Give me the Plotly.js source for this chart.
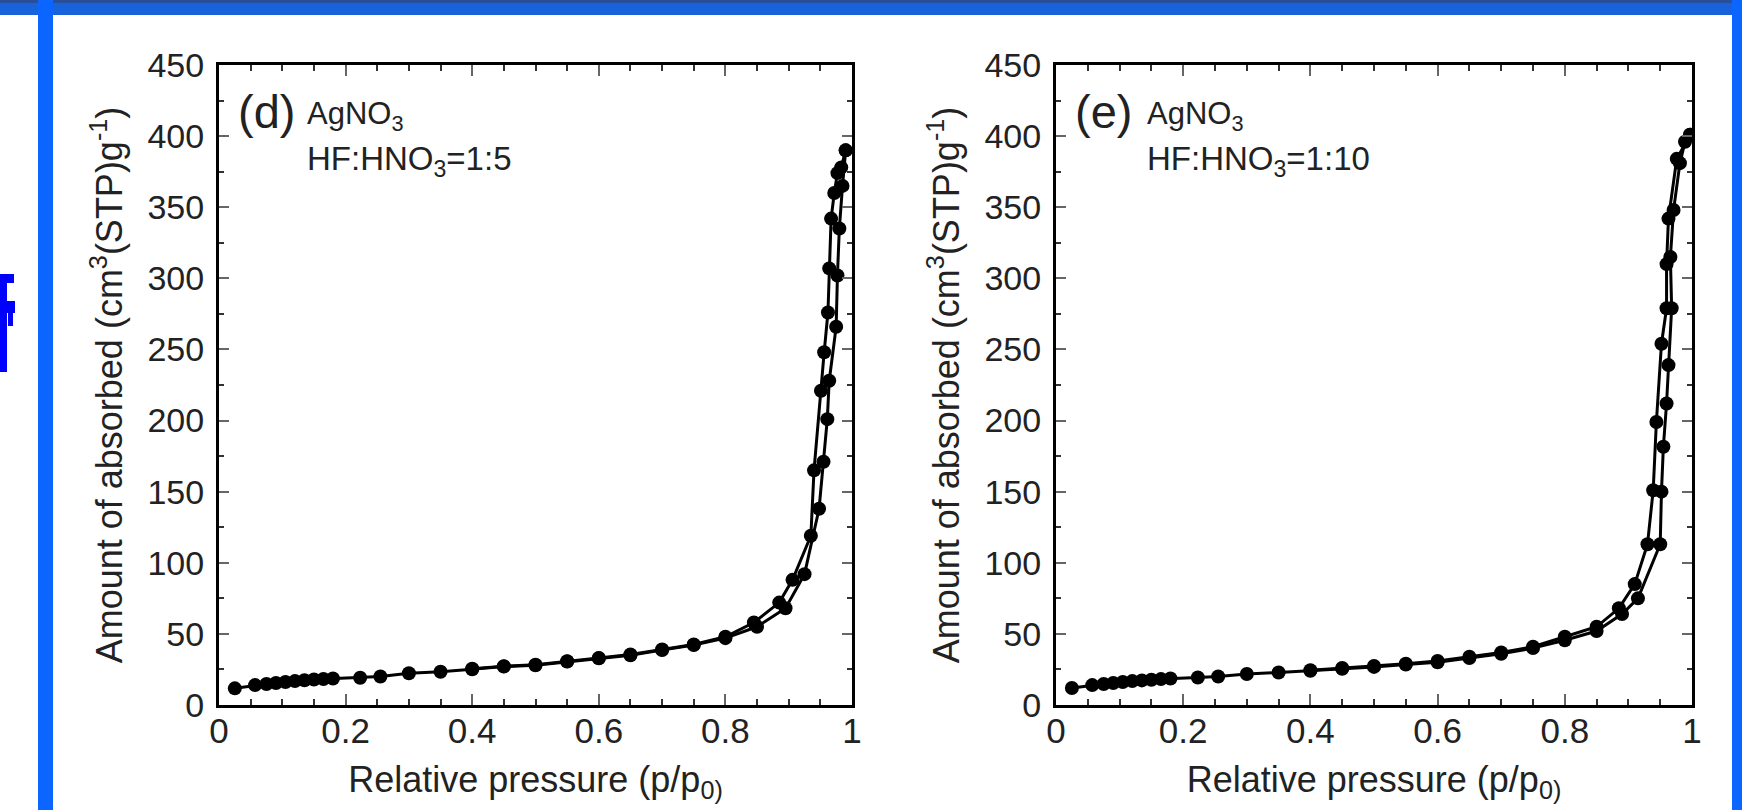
<!DOCTYPE html>
<html>
<head>
<meta charset="utf-8">
<script src="https://cdn.plot.ly/plotly-3.0.1.min.js"></script>
<style>html,body{margin:0;padding:0;background:#fff;}#chart{width:1742px;height:810px;}</style>
</head>
<body>
<div id="chart"></div>
<script>
// ---- Data: panel (d) AgNO3, HF:HNO3 = 1:5 ----
const dAdsX = [0.025,0.057,0.075,0.09,0.105,0.12,0.135,0.15,0.165,0.18,0.223,0.255,0.3,0.35,0.4,0.45,0.5,0.55,0.6,0.65,0.7,0.75,0.8,0.85,0.895,0.925,0.948,0.955,0.961,0.964,0.975,0.977,0.98,0.985,0.99];
const dAdsY = [11.7,14,14.8,15.5,16.2,16.8,17.4,17.9,18.3,18.6,19.2,20,22.3,23.4,25.1,27,28,30.5,32.8,35,38.7,42.2,47,55,68,92,138,171,201,228,266,302,335,365,390];
const dDesX = [0.99,0.983,0.977,0.972,0.967,0.964,0.962,0.956,0.951,0.94,0.935,0.906,0.885,0.845,0.8,0.75,0.7,0.65,0.6,0.55,0.5,0.45,0.4];
const dDesY = [390,378,374,360,342,307,276,248,221,165,119,88,72,58,48,42.5,39,35.5,33,30.8,28.3,27.3,25.5];

// ---- Data: panel (e) AgNO3, HF:HNO3 = 1:10 ----
const eAdsX = [0.025,0.057,0.075,0.09,0.105,0.12,0.135,0.15,0.165,0.18,0.223,0.255,0.3,0.35,0.4,0.45,0.5,0.55,0.6,0.65,0.7,0.75,0.8,0.85,0.89,0.915,0.95,0.952,0.955,0.96,0.963,0.968,0.966,0.971,0.981,0.989,0.997];
const eAdsY = [12,14,14.8,15.5,16.2,16.8,17.3,17.8,18.2,18.6,19.3,20,21.8,22.8,24,25.5,26.8,28.5,30,33,36,40,45.5,52,64,75,113,150,181.6,212,239,279,315,348,381,396,401];
const eDesX = [0.997,0.976,0.963,0.96,0.96,0.952,0.944,0.939,0.93,0.91,0.885,0.85,0.8,0.75,0.7,0.65,0.6,0.55,0.5,0.45,0.4];
const eDesY = [401,384,342,310,279,254,199,151,113,85,68,55,48,41,37,34,31,29,27.5,26,24.5];

const panelLabels = ["(d)", "(e)"];
const precursorLabel = "AgNO<sub>3</sub>";
const ratioLabels = ["HF:HNO<sub>3</sub>=1:5", "HF:HNO<sub>3</sub>=1:10"];
const xTitle = "Relative pressure (p/p<sub>0)</sub>";
const yTitle = "Amount of absorbed (cm<sup>3</sup>(STP)g<sup>-1</sup>)";
const xTickVals = [0, 0.2, 0.4, 0.6, 0.8, 1];
const xTickText = ["0", "0.2", "0.4", "0.6", "0.8", "1"];

// ---- Geometry helpers (pixels -> paper) ----
const W = 1742, H = 810;
const px = v => v / W;
const py = v => 1 - v / H;

const FONT = "Liberation Sans, Arial, sans-serif";
const lineStyle = {color: "#000", width: 3};
const markerStyle = {symbol: "circle", size: 14, color: "#000"};

function branch(x, y, xa, ya) {
  return {x: x, y: y, xaxis: xa, yaxis: ya, type: "scatter", mode: "lines+markers",
          line: lineStyle, marker: markerStyle, showlegend: false, hoverinfo: "x+y"};
}

const traces = [
  branch(dAdsX, dAdsY, "x", "y"),
  branch(dDesX, dDesY, "x", "y"),
  branch(eAdsX, eAdsY, "x2", "y2"),
  branch(eDesX, eDesY, "x2", "y2")
];

function xAxis(domain, anchor) {
  return {
    domain: domain, anchor: anchor, range: [0, 1], fixedrange: true,
    tickmode: "array", tickvals: xTickVals, ticktext: xTickText,
    ticks: "inside", ticklen: 11, tickwidth: 2, tickcolor: "#666",
    minor: {dtick: 0.05, tick0: 0, ticks: "inside", ticklen: 6, tickwidth: 2, tickcolor: "#333"},
    showline: true, linecolor: "#000", linewidth: 3, mirror: "ticks",
    showgrid: false, zeroline: false,
    tickfont: {family: FONT, size: 35, color: "#222"},
    ticklabelstandoff: -7,
    title: {text: xTitle, font: {family: FONT, size: 36, color: "#222"}, standoff: 18}
  };
}
function yAxis(domain, anchor) {
  return {
    domain: domain, anchor: anchor, range: [0, 450], fixedrange: true,
    tick0: 0, dtick: 50,
    ticks: "inside", ticklen: 10, tickwidth: 2, tickcolor: "#666",
    minor: {dtick: 25, tick0: 0, ticks: "inside", ticklen: 5, tickwidth: 2, tickcolor: "#333"},
    showline: true, linecolor: "#000", linewidth: 3, mirror: "ticks",
    showgrid: false, zeroline: false,
    tickfont: {family: FONT, size: 34, color: "#222"},
    ticklabelstandoff: 5,
    title: {text: yTitle, font: {family: FONT, size: 36, color: "#222"}, standoff: 14}
  };
}

const yDom = [py(705), py(65)];

function textAnn(text, x, y, size, anchor) {
  return {text: text, x: px(x), y: py(y), xref: "paper", yref: "paper",
          xanchor: anchor || "left", yanchor: "middle", showarrow: false,
          font: {family: FONT, size: size, color: "#222"}};
}

const annotations = [
  textAnn(panelLabels[0], 236, 111, 47),
  textAnn(precursorLabel, 305, 116, 31),
  textAnn(ratioLabels[0], 305, 161, 33),
  textAnn(panelLabels[1], 1073, 111, 47),
  textAnn(precursorLabel, 1145, 116, 31),
  textAnn(ratioLabels[1], 1145, 161, 33)
];

function rect(x0, y0, x1, y1, color) {
  return {type: "rect", xref: "paper", yref: "paper", x0: px(x0), x1: px(x1), y0: py(y1), y1: py(y0),
          fillcolor: color, line: {width: 0}, layer: "below"};
}

const shapes = [
  rect(0, 0, W, 15, "#1862dc"),
  rect(0, 0, W, 3, "#2a4f9a"),
  rect(38, 0, 53, H, "#0a66ff"),
  rect(1732, 0, W, H, "#0a66ff"),
  // clipped blue glyph fragment at the far left edge
  rect(0, 274, 14, 283, "#0000ff"),
  rect(0, 283, 7, 372, "#0000ff"),
  rect(0, 301, 15, 313, "#0000ff"),
  rect(8, 313, 13, 326, "#0000ff")
];

const layout = {
  width: W, height: H,
  margin: {l: 0, r: 0, t: 0, b: 0, pad: 0},
  paper_bgcolor: "#fff", plot_bgcolor: "#fff",
  xaxis: xAxis([px(219), px(852)], "y"),
  yaxis: yAxis(yDom, "x"),
  xaxis2: xAxis([px(1056), px(1692)], "y2"),
  yaxis2: yAxis(yDom, "x2"),
  annotations: annotations,
  shapes: shapes,
  showlegend: false
};

Plotly.newPlot("chart", traces, layout, {staticPlot: true, displayModeBar: false});
</script>
</body>
</html>
